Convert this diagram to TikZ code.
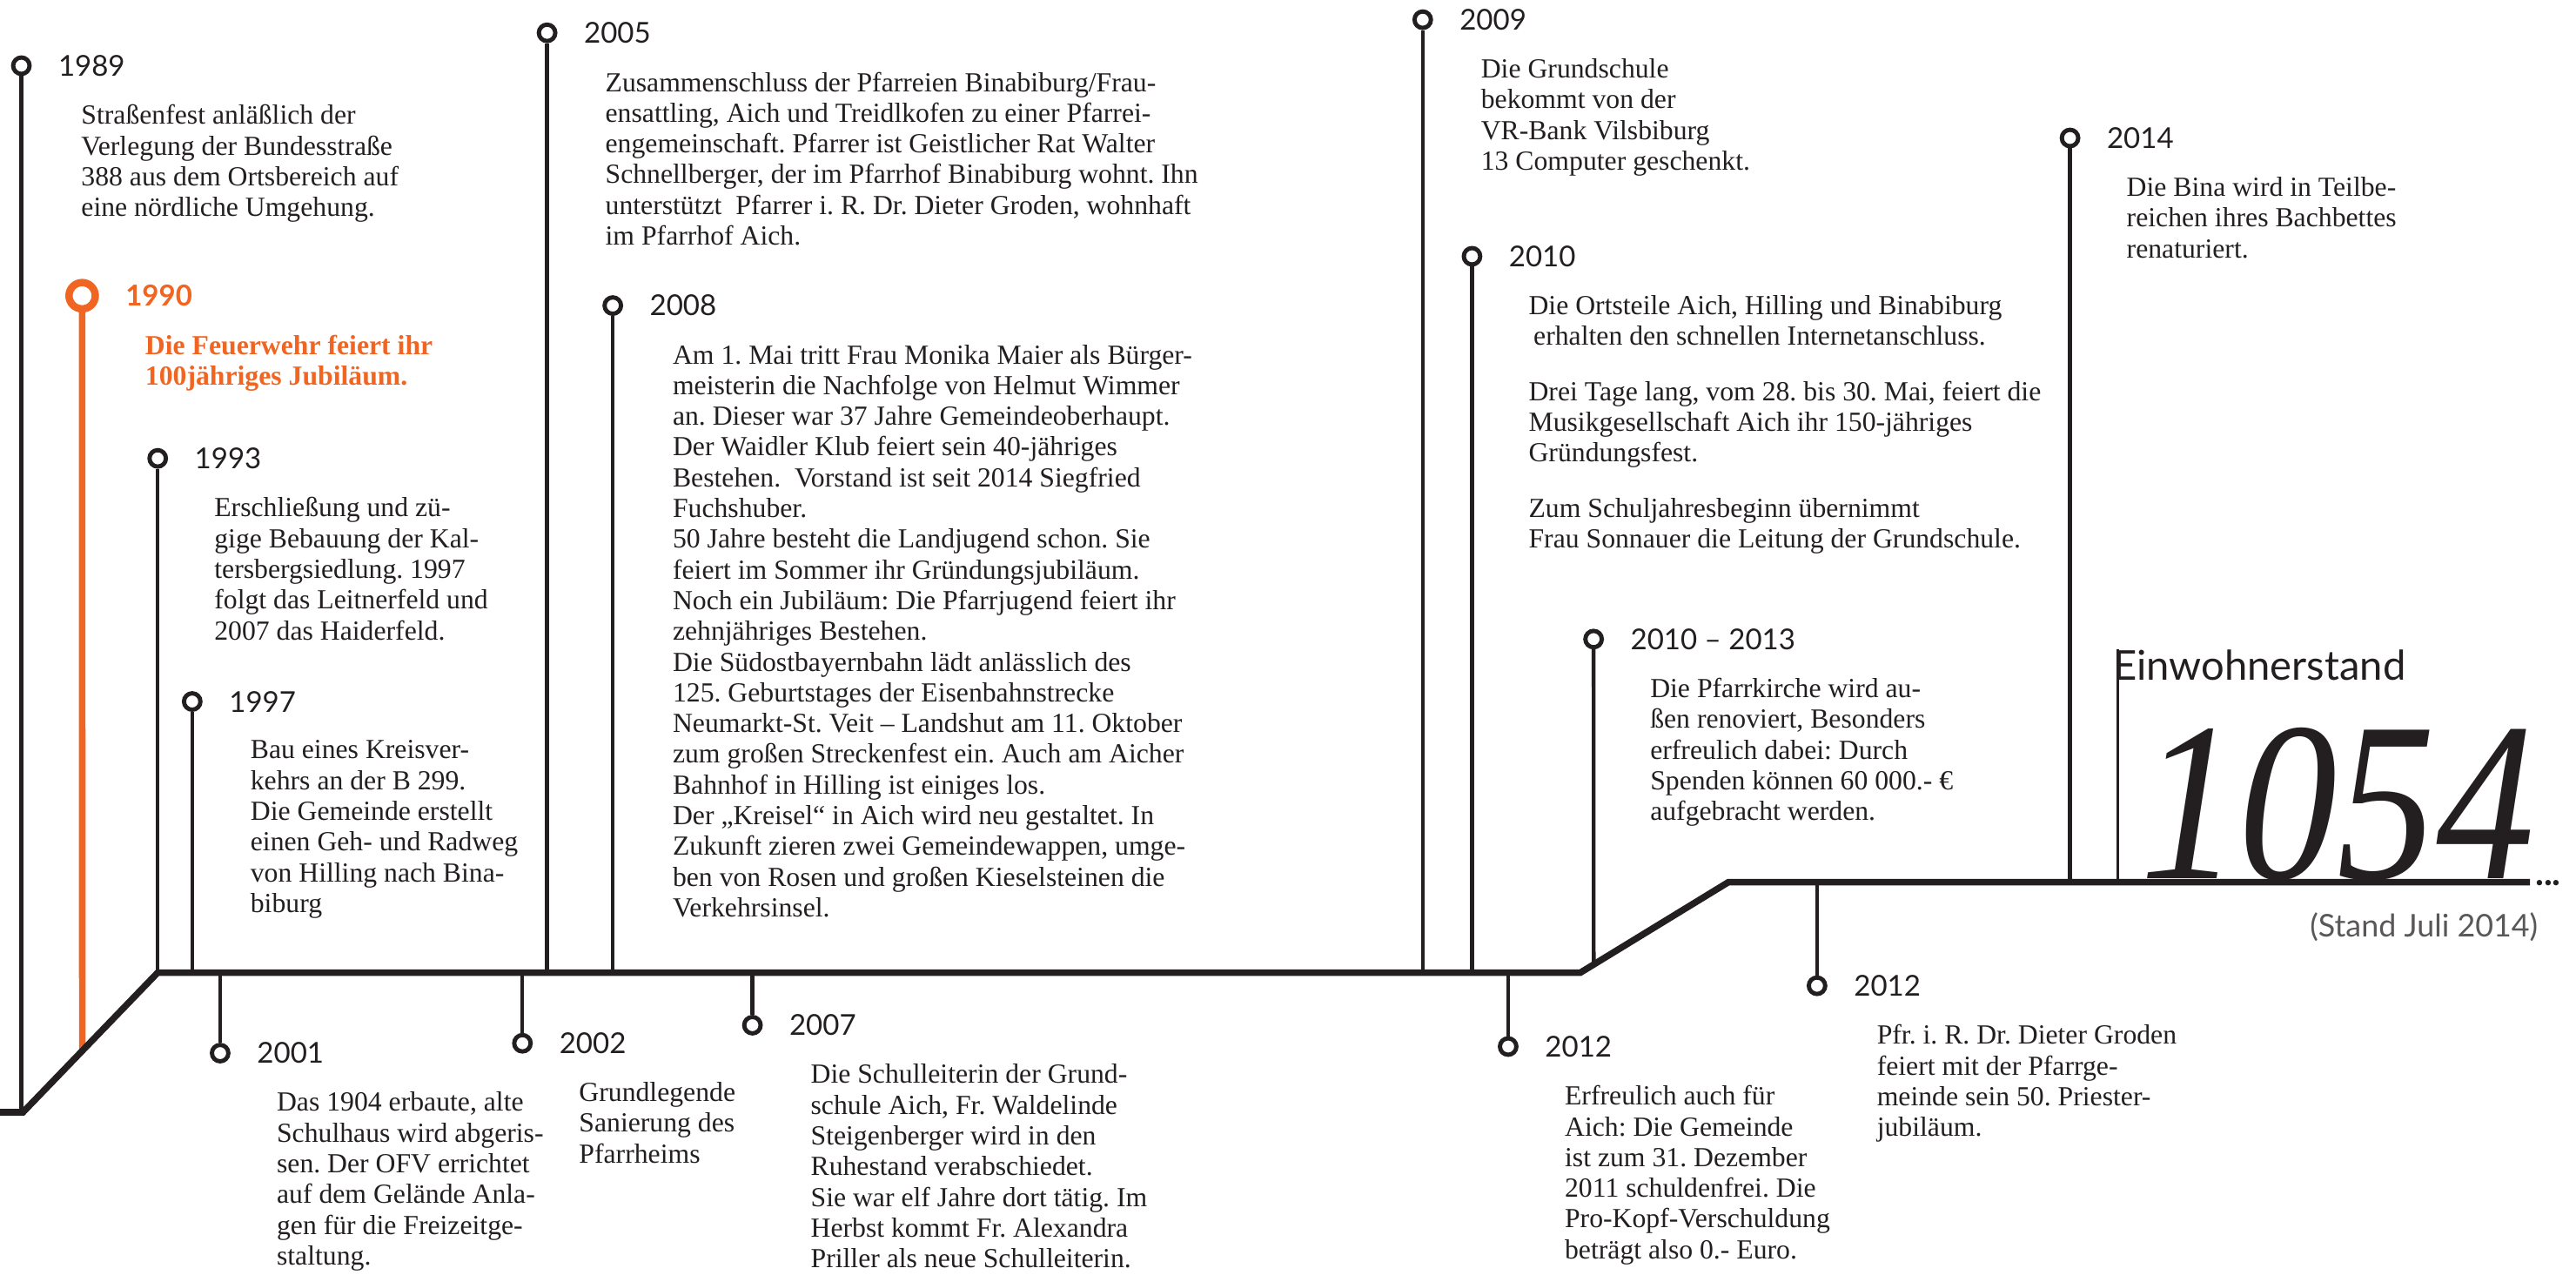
\documentclass[tikz,border=0pt]{standalone}
\usepackage{fontspec}
\setmainfont{Liberation Serif}
\newfontfamily\yearfont{Lato}
\newfontfamily\numfont[FakeStretch=0.87]{Liberation Serif}
\usepackage{xcolor}
\definecolor{ink}{RGB}{35,31,32}
\definecolor{fireorange}{RGB}{241,101,34}
\usepackage{tikz}
\usetikzlibrary{positioning,calc}

\begin{document}
\begin{tikzpicture}[x=1pt,y=1pt,
  ring/.style={circle,draw=ink,fill=white,line width=2.6pt,minimum size=10pt,inner sep=0pt},
  hring/.style={ring,draw=fireorange,line width=4.5pt,minimum size=16pt},
  yr/.style={inner sep=0pt,text=ink,font=\yearfont\fontsize{17.5}{17.5}\selectfont},
  hyr/.style={yr,text=fireorange,font=\yearfont\bfseries\fontsize{17.5}{17.5}\selectfont},
  txt/.style={inner sep=0pt,align=left,text=ink,font=\fontsize{16.8}{18.7}\selectfont\frenchspacing},
  htxt/.style={txt,text=fireorange,font=\bfseries\fontsize{16.8}{18.7}\selectfont\frenchspacing},
  stemline/.style={draw=ink,line width=2.3pt},
  hstem/.style={draw=fireorange,line width=4pt},
  mainline/.style={draw=ink,line width=4pt,line join=miter},
  popl/.style={anchor=base west,inner sep=0pt,text=ink,font=\yearfont\fontsize{25}{25}\selectfont},
  popn/.style={anchor=base east,inner sep=0pt,text=ink,font=\numfont\itshape\fontsize{138}{138}\selectfont},
  popd/.style={anchor=base east,inner sep=0pt,text=ink!75,font=\yearfont\fontsize{19}{19}\selectfont}]

  \useasboundingbox (0,0) rectangle (1568,776);

  % corners of the time line
  \coordinate (p0) at (0,99);
  \coordinate (p1) at (14,99);
  \coordinate (p2) at (96,184);
  \coordinate (p3) at (962,184);
  \coordinate (p4) at (1052,239);
  \coordinate (p5) at (1540,239);
  \coordinate (f90) at ($(p1)!0.44!(p2)$);
  \coordinate (f1013) at ($(p3)!0.09!(p4)$);

  % 1989
  \node[ring] (c89) at (13,736) {};
  \node[yr,right=16pt of c89] (y89) {1989};
  \node[txt,below right=17pt and 14pt of y89.south west] (t89)
    {Straßenfest anläßlich der\\Verlegung der Bundesstraße\\388 aus dem Ortsbereich auf\\eine nördliche Umgehung.};

  % 1990
  \node[hring] (c90) at (50,596) {};
  \node[hyr,right=16pt of c90] (y90) {1990};
  \node[htxt,below right=17pt and 12pt of y90.south west] (t90)
    {Die Feuerwehr feiert ihr\\100jähriges Jubiläum.};

  % 1993
  \node[ring] (c93) at (96,497) {};
  \node[yr,right=16pt of c93] (y93) {1993};
  \node[txt,below right=17pt and 12pt of y93.south west] (t93)
    {Erschließung und zü-\\gige Bebauung der Kal-\\tersbergsiedlung. 1997\\folgt das Leitnerfeld und\\2007 das Haiderfeld.};

  % 1997
  \node[ring] (c97) at (117,349) {};
  \node[yr,right=16pt of c97] (y97) {1997};
  \node[txt,below right=17pt and 13pt of y97.south west] (t97)
    {Bau eines Kreisver-\\kehrs an der B 299.\\Die Gemeinde erstellt\\einen Geh- und Radweg\\von Hilling nach Bina-\\biburg};

  % 2001
  \node[ring] (c01) at (134,135) {};
  \node[yr,right=16pt of c01] (y01) {2001};
  \node[txt,below right=17pt and 12pt of y01.south west] (t01)
    {Das 1904 erbaute, alte\\Schulhaus wird abgeris-\\sen. Der OFV errichtet\\auf dem Gelände Anla-\\gen für die Freizeitge-\\staltung.};

  % 2005
  \node[ring] (c05) at (333,756) {};
  \node[yr,right=16pt of c05] (y05) {2005};
  \node[txt,below right=17pt and 13pt of y05.south west] (t05)
    {Zusammenschluss der Pfarreien Binabiburg/Frau-\\ensattling, Aich und Treidlkofen zu einer Pfarrei-\\engemeinschaft. Pfarrer ist Geistlicher Rat Walter\\Schnellberger, der im Pfarrhof Binabiburg wohnt. Ihn\\unterstützt\ \ Pfarrer i. R. Dr. Dieter Groden, wohnhaft\\im Pfarrhof Aich.};

  % 2002
  \node[ring] (c02) at (318,141) {};
  \node[yr,right=16pt of c02] (y02) {2002};
  \node[txt,below right=17pt and 12pt of y02.south west] (t02)
    {Grundlegende\\Sanierung des\\Pfarrheims};

  % 2008
  \node[ring] (c08) at (373,590) {};
  \node[yr,right=16pt of c08] (y08) {2008};
  \node[txt,below right=17pt and 14pt of y08.south west] (t08)
    {Am 1. Mai tritt Frau Monika Maier als Bürger-\\meisterin die Nachfolge von Helmut Wimmer\\an. Dieser war 37 Jahre Gemeindeoberhaupt.\\Der Waidler Klub feiert sein 40-jähriges\\Bestehen.\ \ Vorstand ist seit 2014 Siegfried\\Fuchshuber.\\50 Jahre besteht die Landjugend schon. Sie\\feiert im Sommer ihr Gründungsjubiläum.\\Noch ein Jubiläum: Die Pfarrjugend feiert ihr\\zehnjähriges Bestehen.\\Die Südostbayernbahn lädt anlässlich des\\125. Geburtstages der Eisenbahnstrecke\\Neumarkt-St. Veit – Landshut am 11. Oktober\\zum großen Streckenfest ein. Auch am Aicher\\Bahnhof in Hilling ist einiges los.\\Der „Kreisel“ in Aich wird neu gestaltet. In\\Zukunft zieren zwei Gemeindewappen, umge-\\ben von Rosen und großen Kieselsteinen die\\Verkehrsinsel.};

  % 2007
  \node[ring] (c07) at (458,152) {};
  \node[yr,right=16pt of c07] (y07) {2007};
  \node[txt,below right=17pt and 13pt of y07.south west] (t07)
    {Die Schulleiterin der Grund-\\schule Aich, Fr. Waldelinde\\Steigenberger wird in den\\Ruhestand verabschiedet.\\Sie war elf Jahre dort tätig. Im\\Herbst kommt Fr. Alexandra\\Priller als neue Schulleiterin.};

  % 2009
  \node[ring] (c09) at (866,764) {};
  \node[yr,right=16pt of c09] (y09) {2009};
  \node[txt,below right=17pt and 13pt of y09.south west] (t09)
    {Die Grundschule\\bekommt von der\\VR-Bank Vilsbiburg\\13 Computer geschenkt.};

  % 2010
  \node[ring] (c10) at (896,620) {};
  \node[yr,right=16pt of c10] (y10) {2010};
  \node[txt,below right=17pt and 12pt of y10.south west] (t10)
    {Die Ortsteile Aich, Hilling und Binabiburg\\\hspace*{3pt}erhalten den schnellen Internetanschluss.\\[15pt]Drei Tage lang, vom 28. bis 30. Mai, feiert die\\Musikgesellschaft Aich ihr 150-jähriges\\Gründungsfest.\\[15pt]Zum Schuljahresbeginn übernimmt\\Frau Sonnauer die Leitung der Grundschule.};

  % 2012 (below)
  \node[ring] (c12a) at (918,139) {};
  \node[yr,right=16pt of c12a] (y12a) {2012};
  \node[txt,below right=17pt and 12pt of y12a.south west] (t12a)
    {Erfreulich auch für\\Aich: Die Gemeinde\\ist zum 31. Dezember\\2011 schuldenfrei. Die\\Pro-Kopf-Verschuldung\\beträgt also 0.- Euro.};

  % 2010 -- 2013
  \node[ring] (c1013) at (970,387) {};
  \node[yr,right=16pt of c1013] (y1013) {2010 – 2013};
  \node[txt,below right=17pt and 12pt of y1013.south west] (t1013)
    {Die Pfarrkirche wird au-\\ßen renoviert, Besonders\\erfreulich dabei: Durch\\Spenden können 60 000.- €\\aufgebracht werden.};

  % 2012 (upper line)
  \node[ring] (c12b) at (1106,176) {};
  \node[yr,right=16pt of c12b] (y12b) {2012};
  \node[txt,below right=17pt and 14pt of y12b.south west] (t12b)
    {Pfr. i. R. Dr. Dieter Groden\\feiert mit der Pfarrge-\\meinde sein 50. Priester-\\jubiläum.};

  % 2014
  \node[ring] (c14) at (1260,692) {};
  \node[yr,right=16pt of c14] (y14) {2014};
  \node[txt,below right=17pt and 12pt of y14.south west] (t14)
    {Die Bina wird in Teilbe-\\reichen ihres Bachbettes\\renaturiert.};

  % stems
  \draw[stemline] (c89.south) -- (c89 |- p1);
  \draw[hstem] (c90.south) -- (f90);
  \draw[stemline] (c93.south) -- (c93 |- p2);
  \draw[stemline] (c97.south) -- (c97 |- p2);
  \draw[stemline] (c01.north) -- (c01 |- p2);
  \draw[stemline] (c05.south) -- (c05 |- p2);
  \draw[stemline] (c02.north) -- (c02 |- p2);
  \draw[stemline] (c08.south) -- (c08 |- p2);
  \draw[stemline] (c07.north) -- (c07 |- p2);
  \draw[stemline] (c09.south) -- (c09 |- p3);
  \draw[stemline] (c10.south) -- (c10 |- p3);
  \draw[stemline] (c12a.north) -- (c12a |- p3);
  \draw[stemline] (c1013.south) -- (f1013);
  \draw[stemline] (c12b.north) -- (c12b |- p4);
  \draw[stemline] (c14.south) -- (c14 |- p4);

  % population
  \node[popl] (einw) at (1286,362) {Einwohnerstand};
  \coordinate (ebase) at (1289,239);
  \draw[draw=ink,line width=1.6pt] (ebase |- einw.north) -- (ebase);
  \node[popn] (pop) at (1543,241) {1054};
  \node[popd] (stand) at (1545,206) {(Stand Juli 2014)};

  \draw[mainline] (p0) -- (p1) -- (p2) -- (p3) -- (p4) -- (p5);
  \node[anchor=base west,inner sep=0pt,text=ink,font=\yearfont\bfseries\fontsize{22}{22}\selectfont] (more) at ([xshift=3pt,yshift=-2pt]p5) {...};
\end{tikzpicture}
\end{document}
